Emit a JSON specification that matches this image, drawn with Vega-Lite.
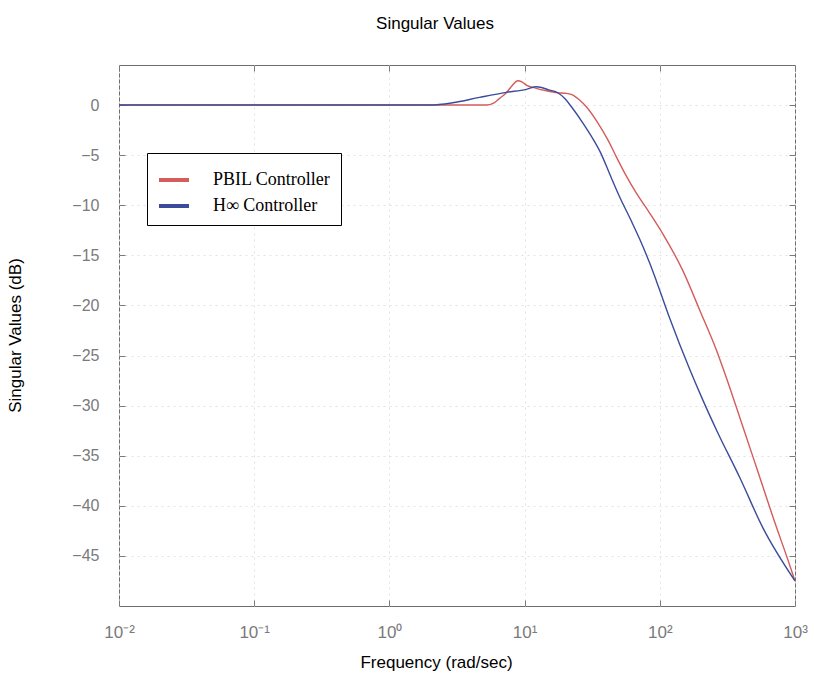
{
  "$schema": "https://vega.github.io/schema/vega-lite/v6.json",
  "width": 676,
  "height": 541,
  "autosize": "none",
  "padding": {"left": 119, "top": 65, "right": 19, "bottom": 74},
  "background": "white",
  "config": {
    "view": {"stroke": "#6e6e6e", "strokeWidth": 1},
    "font": "Liberation Sans"
  },
  "title": {
    "text": "Singular Values",
    "fontSize": 17,
    "fontWeight": "normal",
    "font": "Liberation Sans",
    "color": "black",
    "offset": 32,
    "dx": -22
  },
  "data": {
    "values": [
      {"freq": 0.01, "db": 0, "ctrl": "PBIL Controller"},
      {"freq": 0.1, "db": 0, "ctrl": "PBIL Controller"},
      {"freq": 1, "db": 0, "ctrl": "PBIL Controller"},
      {"freq": 5.2, "db": 0, "ctrl": "PBIL Controller"},
      {"freq": 5.9, "db": 0.2, "ctrl": "PBIL Controller"},
      {"freq": 6.53, "db": 0.67, "ctrl": "PBIL Controller"},
      {"freq": 7.3, "db": 1.2, "ctrl": "PBIL Controller"},
      {"freq": 7.96, "db": 1.83, "ctrl": "PBIL Controller"},
      {"freq": 8.91, "db": 2.43, "ctrl": "PBIL Controller"},
      {"freq": 9.6, "db": 2.3, "ctrl": "PBIL Controller"},
      {"freq": 10.3, "db": 2.0, "ctrl": "PBIL Controller"},
      {"freq": 12.2, "db": 1.67, "ctrl": "PBIL Controller"},
      {"freq": 14.5, "db": 1.43, "ctrl": "PBIL Controller"},
      {"freq": 17.6, "db": 1.23, "ctrl": "PBIL Controller"},
      {"freq": 20.4, "db": 1.17, "ctrl": "PBIL Controller"},
      {"freq": 22.8, "db": 1.0, "ctrl": "PBIL Controller"},
      {"freq": 25.5, "db": 0.5, "ctrl": "PBIL Controller"},
      {"freq": 28.6, "db": -0.17, "ctrl": "PBIL Controller"},
      {"freq": 34.9, "db": -1.8, "ctrl": "PBIL Controller"},
      {"freq": 41.4, "db": -3.5, "ctrl": "PBIL Controller"},
      {"freq": 47.8, "db": -5.2, "ctrl": "PBIL Controller"},
      {"freq": 56.6, "db": -7.1, "ctrl": "PBIL Controller"},
      {"freq": 67.1, "db": -8.8, "ctrl": "PBIL Controller"},
      {"freq": 84.3, "db": -10.8, "ctrl": "PBIL Controller"},
      {"freq": 105.8, "db": -12.9, "ctrl": "PBIL Controller"},
      {"freq": 148.9, "db": -16.6, "ctrl": "PBIL Controller"},
      {"freq": 197.8, "db": -20.5, "ctrl": "PBIL Controller"},
      {"freq": 263, "db": -24.5, "ctrl": "PBIL Controller"},
      {"freq": 294, "db": -26.3, "ctrl": "PBIL Controller"},
      {"freq": 391, "db": -31.2, "ctrl": "PBIL Controller"},
      {"freq": 520, "db": -36.2, "ctrl": "PBIL Controller"},
      {"freq": 690, "db": -41.2, "ctrl": "PBIL Controller"},
      {"freq": 918, "db": -46.0, "ctrl": "PBIL Controller"},
      {"freq": 1000, "db": -47.5, "ctrl": "PBIL Controller"},
      {"freq": 0.01, "db": 0, "ctrl": "H∞ Controller"},
      {"freq": 0.1, "db": 0, "ctrl": "H∞ Controller"},
      {"freq": 1, "db": 0, "ctrl": "H∞ Controller"},
      {"freq": 2.0, "db": 0, "ctrl": "H∞ Controller"},
      {"freq": 2.94, "db": 0.23, "ctrl": "H∞ Controller"},
      {"freq": 4.64, "db": 0.77, "ctrl": "H∞ Controller"},
      {"freq": 7.31, "db": 1.27, "ctrl": "H∞ Controller"},
      {"freq": 10.3, "db": 1.57, "ctrl": "H∞ Controller"},
      {"freq": 12.2, "db": 1.83, "ctrl": "H∞ Controller"},
      {"freq": 15.3, "db": 1.5, "ctrl": "H∞ Controller"},
      {"freq": 17.6, "db": 1.23, "ctrl": "H∞ Controller"},
      {"freq": 20.0, "db": 0.6, "ctrl": "H∞ Controller"},
      {"freq": 22.2, "db": -0.17, "ctrl": "H∞ Controller"},
      {"freq": 27.0, "db": -1.8, "ctrl": "H∞ Controller"},
      {"freq": 32.1, "db": -3.4, "ctrl": "H∞ Controller"},
      {"freq": 36.0, "db": -4.6, "ctrl": "H∞ Controller"},
      {"freq": 43.9, "db": -7.3, "ctrl": "H∞ Controller"},
      {"freq": 50.6, "db": -9.2, "ctrl": "H∞ Controller"},
      {"freq": 61.7, "db": -11.6, "ctrl": "H∞ Controller"},
      {"freq": 71.1, "db": -13.4, "ctrl": "H∞ Controller"},
      {"freq": 84.3, "db": -15.8, "ctrl": "H∞ Controller"},
      {"freq": 94.6, "db": -17.6, "ctrl": "H∞ Controller"},
      {"freq": 118.6, "db": -21.3, "ctrl": "H∞ Controller"},
      {"freq": 166.7, "db": -26.4, "ctrl": "H∞ Controller"},
      {"freq": 209, "db": -29.5, "ctrl": "H∞ Controller"},
      {"freq": 264, "db": -32.5, "ctrl": "H∞ Controller"},
      {"freq": 391, "db": -37.2, "ctrl": "H∞ Controller"},
      {"freq": 579, "db": -42.2, "ctrl": "H∞ Controller"},
      {"freq": 1000, "db": -47.5, "ctrl": "H∞ Controller"}
    ]
  },
  "layer": [
    {
      "mark": {"type": "line", "strokeOpacity": 0},
      "encoding": {
        "x": {
          "field": "freq", "type": "quantitative",
          "scale": {"type": "log", "domain": [0.01, 1000]},
          "axis": {"orient": "top", "labels": false, "title": null, "grid": false, "domain": false, "values": [0.01, 0.1, 1, 10, 100, 1000], "tickSize": -6, "tickColor": "#7a7a7a"}
        },
        "y": {
          "field": "db", "type": "quantitative",
          "scale": {"domain": [-50, 4], "nice": false, "zero": false},
          "axis": {"orient": "right", "labels": false, "title": null, "grid": false, "domain": false, "values": [-45, -40, -35, -30, -25, -20, -15, -10, -5, 0], "tickSize": -6, "tickColor": "#7a7a7a"}
        },
        "detail": {"field": "ctrl"}
      }
    },
    {
      "mark": {"type": "line", "strokeWidth": 1.4, "interpolate": "monotone"},
      "encoding": {
        "x": {
          "field": "freq", "type": "quantitative",
          "scale": {"type": "log", "domain": [0.01, 1000]},
          "axis": {
            "orient": "bottom",
            "values": [0.01, 0.1, 1, 10, 100, 1000],
            "labelExpr": "datum.value == 0.01 ? '10⁻²' : datum.value == 0.1 ? '10⁻¹' : datum.value == 1 ? '10⁰' : datum.value == 10 ? '10¹' : datum.value == 100 ? '10²' : '10³'",
            "title": "Frequency (rad/sec)",
            "titleFontSize": 17, "titleFontWeight": "normal", "titleColor": "black",
            "titleX": 317, "titleY": 56, "titleBaseline": "middle",
            "labelFontSize": 17, "labelColor": "#7a7a7a", "labelPadding": 24,
            "labelFlush": false,
            "tickSize": -6, "tickColor": "#7a7a7a",
            "domain": false,
            "grid": true, "gridColor": "#e2e2e2", "gridDash": [2, 4]
          }
        },
        "y": {
          "field": "db", "type": "quantitative",
          "scale": {"domain": [-50, 4], "nice": false, "zero": false},
          "axis": {
            "orient": "left",
            "values": [-45, -40, -35, -30, -25, -20, -15, -10, -5, 0],
            "title": "Singular Values (dB)",
            "titleFontSize": 17, "titleFontWeight": "normal", "titleColor": "black",
            "titleX": -95, "titleY": 270, "titleAngle": -90, "titleBaseline": "bottom",
            "labelFontSize": 16, "labelColor": "#7a7a7a", "labelPadding": 26,
            "tickSize": -6, "tickColor": "#7a7a7a",
            "domain": false,
            "grid": true, "gridColor": "#e2e2e2", "gridDash": [2, 4]
          }
        },
        "color": {
          "field": "ctrl", "type": "nominal",
          "scale": {"domain": ["PBIL Controller", "H∞ Controller"], "range": ["#d45c5a", "#3c4c9c"]},
          "legend": {
            "orient": "none", "legendX": 28, "legendY": 88,
            "title": null,
            "strokeColor": "black", "fillColor": "white",
            "padding": 10,
            "symbolType": "stroke", "symbolStrokeWidth": 4, "symbolSize": 900,
            "labelFont": "Liberation Serif", "labelFontSize": 18, "labelColor": "black",
            "labelOffset": 22,
            "rowPadding": 0
          }
        }
      }
    }
  ],
  "resolve": {"axis": {"x": "independent", "y": "independent"}}
}
